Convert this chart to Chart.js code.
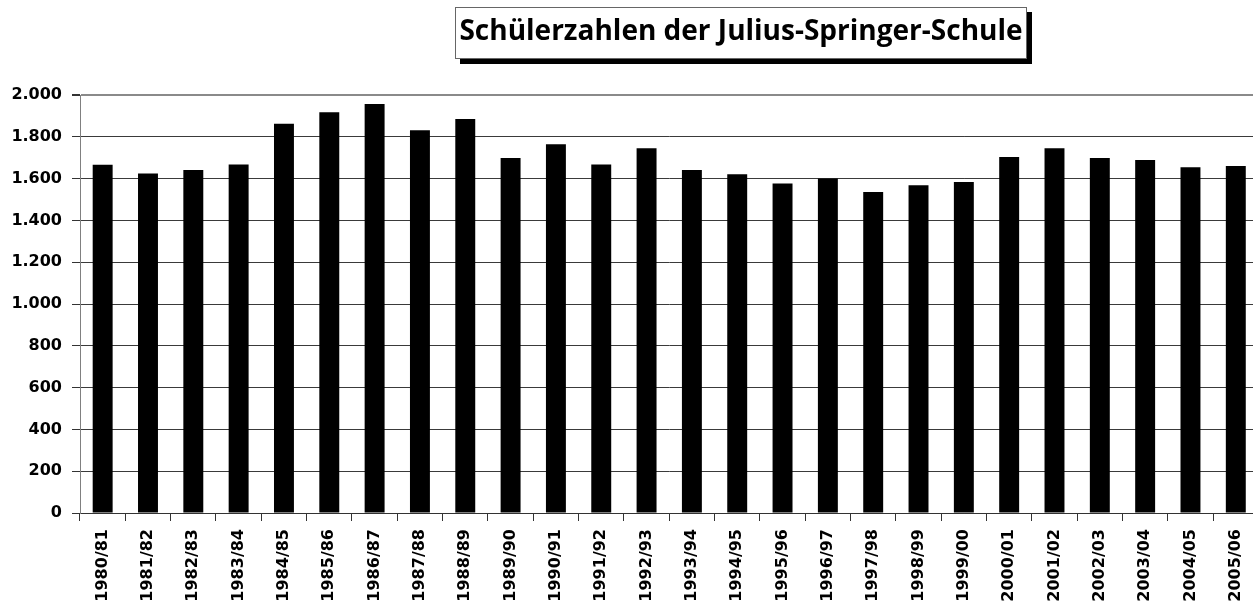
<!DOCTYPE html>
<html>
<head>
<meta charset="utf-8">
<script src="https://cdn.jsdelivr.net/npm/chart.js@4/dist/chart.umd.min.js"></script>
<style>
  html, body { margin: 0; padding: 0; background: #fff; overflow: hidden; }
  #wrap { width: 1263px; height: 607px; position: relative; }
</style>
</head>
<body>
<div id="wrap"><canvas id="chart"></canvas></div>
<script>
// ─── Data ────────────────────────────
const schuljahre = ['1980/81', '1981/82', '1982/83', '1983/84', '1984/85', '1985/86', '1986/87',
    '1987/88', '1988/89', '1989/90', '1990/91', '1991/92', '1992/93', '1993/94', '1994/95',
    '1995/96', '1996/97', '1997/98', '1998/99', '1999/00', '2000/01', '2001/02', '2002/03',
    '2003/04', '2004/05', '2005/06'];
const schuelerzahlen = [1666, 1625, 1641, 1668, 1863, 1917, 1957, 1831, 1885, 1699, 1764, 1668, 1745,
    1641, 1621, 1577, 1601, 1536, 1568, 1584, 1703, 1745, 1699, 1689, 1654, 1660];
const titel = 'Schülerzahlen der Julius-Springer-Schule';
const yMax = 2000;
const yStep = 200;

const tickFont = { family: 'DejaVu Sans', size: 16, weight: 'bold' };

// title in a framed box with a black drop shadow
const titleBoxPlugin = {
    id: 'titleBox',
    afterDraw(chart) {
        const ctx = chart.ctx;
        const x = 455, y = 7, w = 572, h = 52, off = 5;
        ctx.save();
        ctx.fillStyle = '#000';
        ctx.fillRect(x + off, y + off, w, h);
        ctx.fillStyle = '#fff';
        ctx.fillRect(x, y, w, h);
        ctx.strokeStyle = '#666';
        ctx.lineWidth = 1;
        ctx.strokeRect(x + 0.5, y + 0.5, w - 1, h - 1);
        ctx.font = 'bold 28px "Open Sans"';
        ctx.fillStyle = '#000';
        ctx.textAlign = 'center';
        ctx.textBaseline = 'alphabetic';
        ctx.fillText(titel, x + w / 2, 40);
        ctx.restore();
    }
};

new Chart(document.getElementById('chart'), {
    type: 'bar',
    data: {
        labels: schuljahre,
        datasets: [{
            data: schuelerzahlen,
            backgroundColor: '#000',
            borderWidth: 0,
            barPercentage: 0.44,
            categoryPercentage: 1
        }]
    },
    options: {
        responsive: true,
        maintainAspectRatio: false,
        animation: false,
        layout: { padding: { top: 95, right: 0, bottom: 0, left: 0 } },
        plugins: {
            legend: { display: false },
            title: { display: false },
            tooltip: { enabled: false }
        },
        scales: {
            x: {
                offset: true,
                grid: {
                    offset: true,
                    drawOnChartArea: false,
                    drawTicks: true,
                    tickLength: 8,
                    tickColor: '#333'
                },
                border: { color: '#333', width: 1 },
                ticks: {
                    font: tickFont,
                    color: '#000',
                    minRotation: 90,
                    maxRotation: 90,
                    autoSkip: false,
                    padding: 8
                },
                afterFit(scale) { scale.height = 94; }
            },
            y: {
                min: 0,
                max: yMax,
                grid: {
                    color: (c) => c.tick && c.tick.value === yMax ? '#8a8a8a' : '#3a3a3a',
                    lineWidth: (c) => c.tick && c.tick.value === yMax ? 2 : 1,
                    drawTicks: true,
                    tickLength: 8,
                    tickColor: '#333'
                },
                border: { color: '#808080', width: 1 },
                ticks: {
                    stepSize: yStep,
                    font: tickFont,
                    color: '#000',
                    padding: 10,
                    callback: (v) => v.toLocaleString('de-DE')
                },
                afterFit(scale) { scale.width = 80; }
            }
        }
    },
    plugins: [titleBoxPlugin]
});
</script>
</body>
</html>
